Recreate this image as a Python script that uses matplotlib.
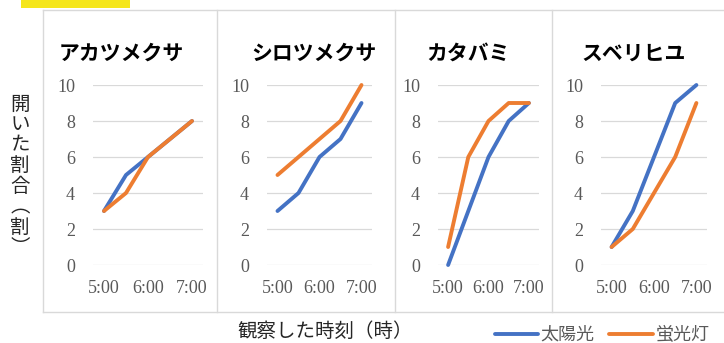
import matplotlib
matplotlib.use('Agg')
import matplotlib.pyplot as plt
from matplotlib.lines import Line2D
from matplotlib.patches import Rectangle

# data
times = ['5:00', '5:30', '6:00', '6:30', '7:00']
tick_labels = ['5:00', '6:00', '7:00']
plants = ['アカツメクサ', 'シロツメクサ', 'カタバミ', 'スベリヒユ']
sunlight = [
    [3, 5, 6, 7, 8],
    [3, 4, 6, 7, 9],
    [0, 3, 6, 8, 9],
    [1, 3, 6, 9, 10],
]
fluorescent = [
    [3, 4, 6, 7, 8],
    [5, 6, 7, 8, 10],
    [1, 6, 8, 9, 9],
    [1, 2, 4, 6, 9],
]
series_names = ['太陽光', '蛍光灯']
colors = ['#4472C4', '#ED7D31']

W, H = 724, 343
JP = ['Noto Sans CJK JP', 'DejaVu Sans']
SERIF = 'Liberation Serif'
GRAY = '#595959'
BORDER = '#d9d9d9'

fig = plt.figure(figsize=(W / 100, H / 100), dpi=100)


def fx(x):
    return x / W


def fy(y):
    return 1 - y / H


# yellow marker at top-left
fig.patches.append(Rectangle((fx(21), fy(8)), fx(109), 8 / H,
                             transform=fig.transFigure, color='#f5e61b',
                             lw=0))

# panel frames
for x in [43, 217, 395, 552]:
    fig.add_artist(Line2D([fx(x), fx(x)], [fy(9.5), fy(312)],
                          color=BORDER, lw=1.0))
for y in [9.5, 312]:
    fig.add_artist(Line2D([fx(43), 1], [fy(y), fy(y)],
                          color=BORDER, lw=1.0))

# plot areas (left, right) in pixels, and title centers
areas = [(93, 203), (267, 372), (438, 539), (601, 707)]
title_x = [121, 314, 468, 634]
top, bottom = 85, 265

handles = []
for i, (x0, x1) in enumerate(areas):
    ax = fig.add_axes([fx(x0), fy(bottom), (x1 - x0) / W,
                       (bottom - top) / H])
    xs = range(len(times))
    l1, = ax.plot(xs, sunlight[i], color=colors[0], lw=2.8,
                  solid_joinstyle='round', solid_capstyle='round',
                  clip_on=False, zorder=3)
    l2, = ax.plot(xs, fluorescent[i], color=colors[1], lw=2.8,
                  solid_joinstyle='round', solid_capstyle='round',
                  clip_on=False, zorder=4)
    if i == 0:
        handles = [l1, l2]
    ax.set_xlim(-0.5, len(times) - 0.5)
    ax.set_ylim(0, 10)
    ax.set_yticks(range(0, 11, 2))
    ax.set_xticks([0, 2, 4])
    ax.set_xticklabels(tick_labels)
    for s in ax.spines.values():
        s.set_visible(False)
    ax.grid(axis='y', color=BORDER, lw=0.9)
    ax.set_axisbelow(True)
    ax.tick_params(length=0, labelsize=13, labelcolor=GRAY)
    ax.tick_params(axis='y', pad=13)
    ax.tick_params(axis='x', pad=11)
    for lab in ax.get_xticklabels() + ax.get_yticklabels():
        lab.set_fontfamily(SERIF)
    ax.patch.set_alpha(0)
    fig.text(fx(title_x[i]), fy(53), plants[i], family=JP,
             fontsize=15, fontweight='bold', ha='center', va='center')

# vertical y label, one character per row
ylab = '開いた割合︵割︶'
for k, ch in enumerate(ylab):
    fig.text(fx(20), fy(104 + 20.5 * k), ch, family=JP, fontsize=14,
             color='#262626', ha='center', va='center')

fig.text(fx(325), fy(331), '観察した時刻（時）', family=JP, fontsize=14,
         color='#262626', ha='center', va='center')

fig.legend(handles, series_names, loc='center',
           bbox_to_anchor=(fx(602), fy(335)), ncol=2, frameon=False,
           prop={'family': JP, 'size': 13}, labelcolor=GRAY,
           handlelength=2.4, handletextpad=0.15, columnspacing=0.8,
           borderpad=0, borderaxespad=0)

fig.savefig('out.png', dpi=100)
